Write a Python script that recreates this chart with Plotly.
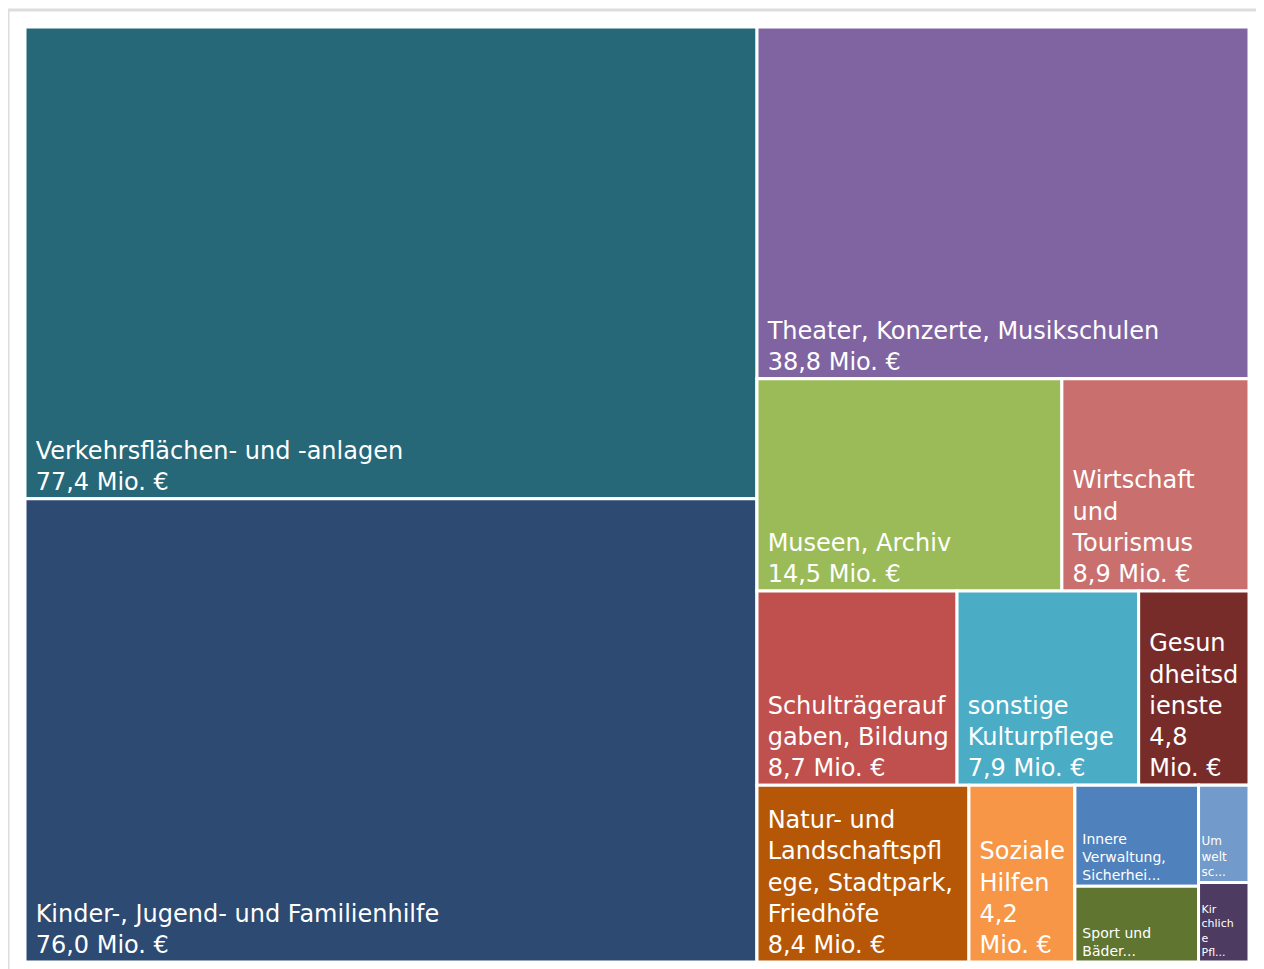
import plotly.graph_objects as go

# Leaf categories (values in Mio. €)
labels = ["Verkehrsflächen- und -anlagen", "Kinder-, Jugend- und Familienhilfe",
          "Theater, Konzerte, Musikschulen", "Museen, Archiv", "Wirtschaft und Tourismus",
          "Schulträgeraufgaben, Bildung", "sonstige Kulturpflege", "Gesundheitsdienste",
          "Natur- und Landschaftspflege, Stadtpark, Friedhöfe", "Soziale Hilfen",
          "Innere Verwaltung, Sicherheit", "Sport und Bäder", "Umweltschutz", "Kirchliche Pflege"]
values = [77.4, 76.0, 38.8, 14.5, 8.9, 8.7, 7.9, 4.8, 8.4, 4.2, 2.8, 2.1, 1.1, 0.9]
display_lines = [
    ["Verkehrsflächen- und -anlagen", "77,4 Mio. €"],
    ["Kinder-, Jugend- und Familienhilfe", "76,0 Mio. €"],
    ["Theater, Konzerte, Musikschulen", "38,8 Mio. €"],
    ["Museen, Archiv", "14,5 Mio. €"],
    ["Wirtschaft", "und", "Tourismus", "8,9 Mio. €"],
    ["Schulträgerauf", "gaben, Bildung", "8,7 Mio. €"],
    ["sonstige", "Kulturpflege", "7,9 Mio. €"],
    ["Gesun", "dheitsd", "ienste", "4,8", "Mio. €"],
    ["Natur- und", "Landschaftspfl", "ege, Stadtpark,", "Friedhöfe", "8,4 Mio. €"],
    ["Soziale", "Hilfen", "4,2", "Mio. €"],
    ["Innere", "Verwaltung,", "Sicherhei..."],
    ["Sport und", "Bäder..."],
    ["Um", "welt", "sc..."],
    ["Kir", "chlich", "e", "Pfl..."],
]
colors = ["#276878", "#2C4A72", "#8064A2", "#9BBB59", "#C9706E", "#C0504D", "#4BACC6",
          "#772C2A", "#B65708", "#F79646", "#4F81BD", "#5F7530", "#729ACA", "#4D3B62"]
font_sizes = [24, 24, 24, 24, 24, 24, 24, 24, 24, 24, 14, 14, 12, 11]
indent = ["\u00a0"] * 10 + ["\u00a0"] * 2 + [""] * 2

# Layout structure: groups (no own values) and leaf membership, in drawing order
groups = {
    "root": "",
    "g_left": "root",
    "g_right": "root",
    "g_r2": "g_right",
    "g_r3": "g_right",
    "g_r4": "g_right",
    "g_r5": "g_r4",
    "g_r6": "g_r4",
}
order = ["root", "g_left", 0, 1, "g_right", 2, "g_r2", 3, 4, "g_r3", 5, 6, 7,
         "g_r4", 8, 9, "g_r5", 10, 11, "g_r6", 12, 13]
leaf_parents = ["g_left", "g_left", "g_right", "g_r2", "g_r2", "g_r3", "g_r3", "g_r3",
                "g_r4", "g_r4", "g_r5", "g_r5", "g_r6", "g_r6"]

ids, all_labels, parents, all_values, all_text, all_colors, all_sizes = [], [], [], [], [], [], []
for item in order:
    if isinstance(item, str):
        ids.append(item); all_labels.append(" "); parents.append(groups[item])
        all_values.append(0); all_text.append(""); all_colors.append("white"); all_sizes.append(10)
    else:
        ids.append(f"leaf{item}"); all_labels.append(labels[item]); parents.append(leaf_parents[item])
        all_values.append(values[item])
        all_text.append("<br>".join(indent[item] + ln for ln in display_lines[item]))
        all_colors.append(colors[item]); all_sizes.append(font_sizes[item])

fig = go.Figure(go.Treemap(
    ids=ids,
    labels=all_labels,
    parents=parents,
    values=all_values,
    branchvalues="remainder",
    customdata=all_text,
    texttemplate="%{customdata}",
    textposition="bottom left",
    textfont=dict(family="DejaVu Sans, Liberation Sans, sans-serif", size=all_sizes, color="white"),
    marker=dict(colors=all_colors, line=dict(color="white", width=3),
                pad=dict(t=0, l=0, r=0, b=0)),
    sort=False,
    tiling=dict(packing="slice-dice", pad=0),
    pathbar=dict(visible=False),
    hoverinfo="label+value",
))
fig.update_layout(
    width=1264, height=969,
    margin=dict(l=17, r=23, t=19, b=15),
    paper_bgcolor="white",
    shapes=[dict(type="line", xref="paper", yref="paper",
                 x0=-17 / 1224, x1=1.1, y0=1 + 17 / 935, y1=1 + 17 / 935,
                 line=dict(color="#DDDDDD", width=3)),
            dict(type="line", xref="paper", yref="paper",
                 x0=-17 / 1224, x1=-17 / 1224, y0=-0.05, y1=1 + 17 / 935,
                 line=dict(color="#DDDDDD", width=3))],
)
fig.write_html("out.html")
